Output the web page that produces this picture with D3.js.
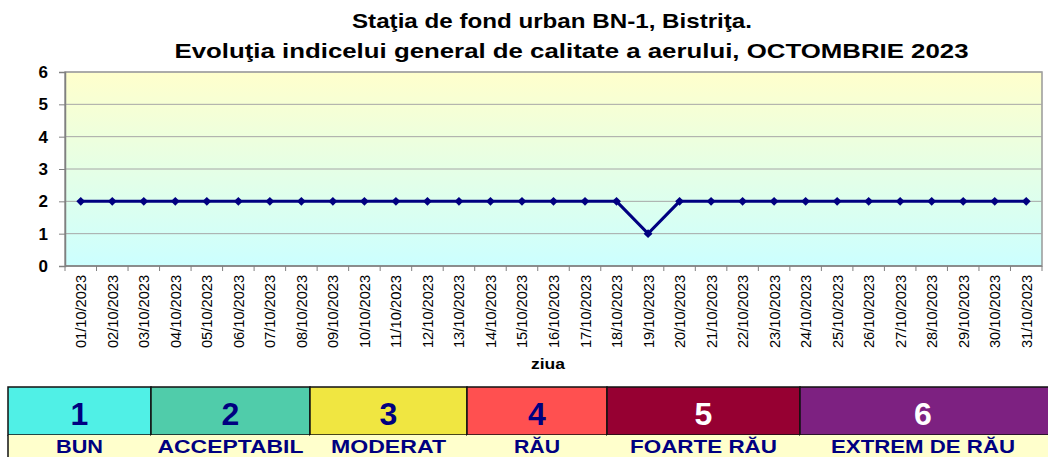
<!DOCTYPE html>
<meta charset="utf-8">
<head>
  <meta charset="utf-8">
  <title>Indicele general de calitate a aerului BN-1</title>
</head>
<style>
body { margin: 0; background: #fff; }
svg text { font-family: 'Liberation Sans', Arial, sans-serif; }
</style>
<body>
<div class="chart"></div>
<script src="https://cdn.jsdelivr.net/npm/d3@7"></script>
<script>

// data
var days = []
for (var i = 1; i <= 31; i++) days.push((i < 10 ? '0' + i : '' + i) + '/10/2023')
var indexValues = [2,2,2,2,2,2,2,2,2,2,2,2,2,2,2,2,2,2,1,2,2,2,2,2,2,2,2,2,2,2,2]
var yTicks = [0,1,2,3,4,5,6]
var titleLines = ['Staţia de fond urban BN-1, Bistriţa.', 'Evoluţia indicelui general de calitate a aerului, OCTOMBRIE 2023']

// legend categories
var legendNums = ['1','2','3','4','5','6']
var legendNames = ['BUN','ACCEPTABIL','MODERAT','RĂU','FOARTE RĂU','EXTREM DE RĂU']
var legendColors = ['#50f0e6','#50ccaa','#f0e641','#ff5050','#960032','#7d2181']
var legendTextColors = ['#000080','#000080','#000080','#000080','#ffffff','#ffffff']
var legendEdges = [8, 151, 310, 467, 607, 800, 1050]

var width = 1048
var height = 457
var plot = {left: 65, right: 1042, top: 72, bottom: 266}

var svg = d3.select('.chart').append('svg')
    .attr('width', width)
    .attr('height', height)

var x = d3.scaleBand().domain(days).range([plot.left, plot.right])
var y = d3.scaleLinear().domain([0, 6]).range([plot.bottom, plot.top])

// background gradient yellow -> cyan
var grad = svg.append('defs').append('linearGradient')
    .attr('id', 'bg').attr('x1', 0).attr('x2', 0).attr('y1', 0).attr('y2', 1)
grad.append('stop').attr('offset', '0%').attr('stop-color', '#ffffcc')
grad.append('stop').attr('offset', '100%').attr('stop-color', '#ccffff')

svg.append('rect')
    .attr('x', plot.left).attr('y', plot.top)
    .attr('width', plot.right - plot.left).attr('height', plot.bottom - plot.top)
    .attr('fill', 'url(#bg)')
    .attr('stroke', '#999').attr('stroke-width', 1.5)

// gridlines
svg.selectAll('.grid')
    .data(yTicks.slice(1))
    .enter().append('line')
    .attr('class', 'grid')
    .attr('x1', plot.left).attr('x2', plot.right)
    .attr('y1', function (d) { return y(d) }).attr('y2', function (d) { return y(d) })
    .attr('stroke', '#a6a6a6').attr('stroke-width', 1)

// y axis
var yAxis = svg.append('g')
    .attr('transform', 'translate(' + plot.left + ',0)')
    .call(d3.axisLeft(y).tickValues(yTicks).tickSize(6).tickPadding(11).tickFormat(d3.format('d')))
yAxis.select('.domain').attr('stroke', '#808080').attr('stroke-width', 1.5)
yAxis.selectAll('.tick line').attr('stroke', '#808080')
yAxis.selectAll('text')
    .attr('font-size', 17).attr('font-weight', 'bold').attr('fill', '#000')
    .style('font-family', "'Liberation Sans', Arial, sans-serif")

// x axis: ticks on band boundaries
var xAxisG = svg.append('g')
    .attr('transform', 'translate(0,' + plot.bottom + ')')
xAxisG.append('line')
    .attr('x1', plot.left).attr('x2', plot.right)
    .attr('stroke', '#808080').attr('stroke-width', 1.5)
xAxisG.selectAll('.xtick')
    .data(days.concat(['end']))
    .enter().append('line')
    .attr('class', 'xtick')
    .attr('x1', function (d, i) { return plot.left + i * x.step() })
    .attr('x2', function (d, i) { return plot.left + i * x.step() })
    .attr('y1', 0).attr('y2', 5)
    .attr('stroke', '#808080')
xAxisG.selectAll('.xlabel')
    .data(days)
    .enter().append('text')
    .attr('class', 'xlabel')
    .attr('transform', function (d) {
      return 'translate(' + (x(d) + x.bandwidth() / 2 + 5.5) + ',9) rotate(-90)'
    })
    .attr('text-anchor', 'end')
    .attr('font-size', 14)
    .attr('textLength', 73).attr('lengthAdjust', 'spacingAndGlyphs')
    .attr('fill', '#000')
    .text(function (d) { return d })

svg.append('text')
    .attr('x', 548).attr('y', 369)
    .attr('text-anchor', 'middle')
    .attr('font-size', 15).attr('font-weight', 'bold')
    .attr('textLength', 34).attr('lengthAdjust', 'spacingAndGlyphs')
    .text('ziua')

// title
var titleWidths = [400, 794]
svg.selectAll('.title')
    .data(titleLines)
    .enter().append('text')
    .attr('class', 'title')
    .attr('x', function (d, i) { return i == 0 ? 552 : 571.5 })
    .attr('y', function (d, i) { return 28 + i * 29.5 })
    .attr('text-anchor', 'middle')
    .attr('font-size', 21).attr('font-weight', 'bold')
    .attr('textLength', function (d, i) { return titleWidths[i] })
    .attr('lengthAdjust', 'spacingAndGlyphs')
    .text(function (d) { return d })

// line + diamond markers
var line = d3.line()
    .x(function (d, i) { return x(days[i]) + x.bandwidth() / 2 })
    .y(function (d) { return y(d) })

svg.append('path')
    .datum(indexValues)
    .attr('d', line)
    .attr('fill', 'none')
    .attr('stroke', '#000080')
    .attr('stroke-width', 3)

svg.selectAll('.marker')
    .data(indexValues)
    .enter().append('path')
    .attr('class', 'marker')
    .attr('d', d3.symbol().type(d3.symbolDiamond2).size(50))
    .attr('transform', function (d, i) {
      return 'translate(' + (x(days[i]) + x.bandwidth() / 2) + ',' + y(d) + ')'
    })
    .attr('fill', '#000080')

// legend
var labelWidths = [47, 146, 115, 46, 147, 184]
var legend = svg.append('g')
var cells = legend.selectAll('.cell')
    .data(legendNums)
    .enter().append('g')
    .attr('class', 'cell')

cells.append('rect')
    .attr('x', function (d, i) { return legendEdges[i] })
    .attr('y', 387)
    .attr('width', function (d, i) { return legendEdges[i + 1] - legendEdges[i] })
    .attr('height', 48)
    .attr('fill', function (d, i) { return legendColors[i] })
    .attr('stroke', '#111').attr('stroke-width', 1.5)

cells.append('rect')
    .attr('x', function (d, i) { return legendEdges[i] })
    .attr('y', 435)
    .attr('width', function (d, i) { return legendEdges[i + 1] - legendEdges[i] })
    .attr('height', 30)
    .attr('fill', '#ffffcc')

cells.append('text')
    .attr('x', function (d, i) { return (legendEdges[i] + Math.min(legendEdges[i + 1], 1046)) / 2 })
    .attr('y', 425)
    .attr('text-anchor', 'middle')
    .attr('font-size', 32).attr('font-weight', 'bold')
    .attr('fill', function (d, i) { return legendTextColors[i] })
    .text(function (d) { return d })

cells.append('text')
    .attr('x', function (d, i) { return (legendEdges[i] + Math.min(legendEdges[i + 1], 1046)) / 2 })
    .attr('y', 452.5)
    .attr('text-anchor', 'middle')
    .attr('font-size', 19).attr('font-weight', 'bold')
    .attr('textLength', function (d, i) { return labelWidths[i] })
    .attr('lengthAdjust', 'spacingAndGlyphs')
    .attr('fill', '#000080')
    .text(function (d, i) { return legendNames[i] })

legend.append('line')
    .attr('x1', legendEdges[0]).attr('x2', legendEdges[0])
    .attr('y1', 435).attr('y2', 457)
    .attr('stroke', '#111').attr('stroke-width', 1.5)

</script>
</body>
